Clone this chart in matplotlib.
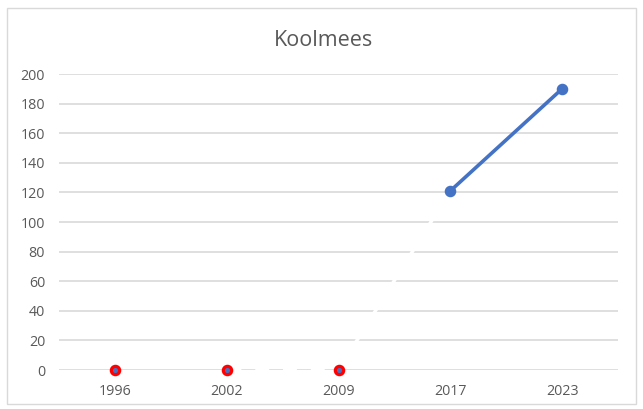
import matplotlib
matplotlib.use("Agg")
import matplotlib.pyplot as plt
from matplotlib.patches import Rectangle

categories = ["1996", "2002", "2009", "2017", "2023"]
values = [0, 0, 0, 121, 190]
zero_idx = [0, 1, 2]        # points shown with red marker
line_idx = [3, 4]           # visible blue segment
hidden_dash_idx = [1, 2]    # white dashed segment
hidden_solid_idx = [2, 3]   # white solid segment
yticks = [0, 20, 40, 60, 80, 100, 120, 140, 160, 180, 200]

plt.rcParams['font.family'] = ['Open Sans', 'DejaVu Sans']
W, H = 643, 409
fig = plt.figure(figsize=(W/100, H/100), dpi=100)
ax = fig.add_axes([59/W, 39/H, (618-59)/W, (370-74)/H])

x = list(range(len(categories)))
ax.set_xlim(-0.5, len(categories)-0.5)
ax.set_ylim(0, 200)
ax.set_yticks(yticks)
ax.set_xticks(x)
ax.set_xticklabels(categories)
ax.grid(axis='y', color='#d9d9d9', linewidth=1.2, zorder=0)
ax.set_axisbelow(True)
for s in ax.spines.values():
    s.set_visible(False)
ax.tick_params(length=0, labelsize=10.3, labelcolor='#595959')
ax.tick_params(axis='y', pad=10)
ax.tick_params(axis='x', pad=10)

# white segments that interrupt gridlines
ax.plot([x[i] for i in hidden_dash_idx], [values[i] for i in hidden_dash_idx],
        color='white', linewidth=2.5, dashes=(4, 4), zorder=1.5, clip_on=False)
ax.plot([x[i] for i in hidden_solid_idx], [values[i] for i in hidden_solid_idx],
        color='white', linewidth=2.5, zorder=1.5, clip_on=False)

ax.plot([x[i] for i in line_idx], [values[i] for i in line_idx],
        color='#4472C4', linewidth=2.6, marker='o', markersize=7.3,
        zorder=3)
ax.plot([x[i] for i in zero_idx], [values[i] for i in zero_idx],
        linestyle='none', marker='o', markersize=6, markerfacecolor='#4472C4',
        markeredgecolor='#ff0000', markeredgewidth=2.3, zorder=4, clip_on=False)

fig.text(323/W, 1-40/H, "Koolmees", ha='center', va='center',
         fontsize=15.5, color='#595959')

fig.patches.append(Rectangle((7/W, 5/H), (636-7)/W, (401-5)/H,
                             transform=fig.transFigure, fill=False,
                             edgecolor='#d9d9d9', linewidth=1))

fig.savefig("out.png", dpi=100)
